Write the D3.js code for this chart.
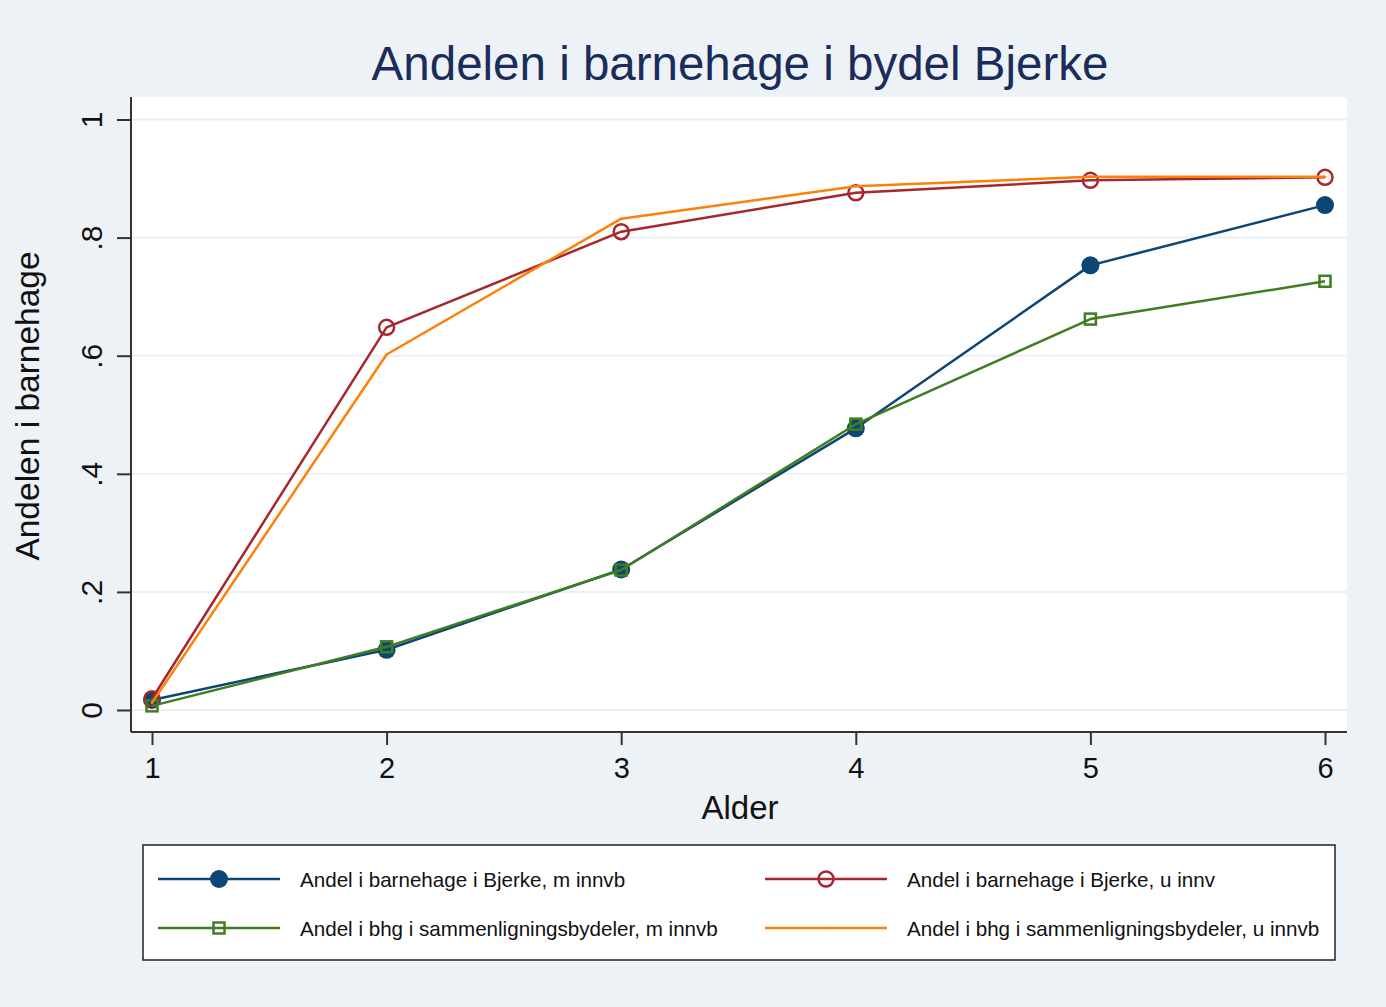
<!DOCTYPE html>
<html>
<head>
<meta charset="utf-8">
<script src="https://cdn.jsdelivr.net/npm/d3@7"></script>
<style>
  body { margin: 0; background: #edf2f7; }
  svg { display: block; font-family: "Liberation Sans", Arial, sans-serif; }
</style>
</head>
<body>
<svg id="chart" width="1386" height="1007"></svg>
<script>
// Ages on the x axis
const ages = [1, 2, 3, 4, 5, 6];

// Series values
const bjerkeMed = [0.017, 0.102, 0.238, 0.477, 0.753, 0.855];
const bjerkeUten = [0.019, 0.648, 0.810, 0.876, 0.897, 0.902];
const sammenMed = [0.007, 0.107, 0.237, 0.484, 0.662, 0.726];
const sammenUten = [0.012, 0.602, 0.832, 0.887, 0.903, 0.903];

const yTicks = [0, 0.2, 0.4, 0.6, 0.8, 1];
const yTickLabels = ["0", ".2", ".4", ".6", ".8", "1"];

const seriesNames = [
  "Andel i barnehage i Bjerke, m innvb",
  "Andel i barnehage i Bjerke, u innv",
  "Andel i bhg i sammenligningsbydeler, m innvb",
  "Andel i bhg i sammenligningsbydeler, u innvb"
];

const series = [
  { name: seriesNames[0], values: bjerkeMed, color: "#0d4574", marker: "dot" },
  { name: seriesNames[1], values: bjerkeUten, color: "#a6282f", marker: "ring" },
  { name: seriesNames[2], values: sammenMed, color: "#3f7d22", marker: "square" },
  { name: seriesNames[3], values: sammenUten, color: "#fd8108", marker: "point" }
];

const svg = d3.select("#chart");
const width = +svg.attr("width");
const height = +svg.attr("height");

svg.append("rect").attr("width", width).attr("height", height).attr("fill", "#edf2f7");

// plot region
const plot = { left: 131, right: 1347, top: 97, bottom: 732 };

const x = d3.scaleLinear().domain([1, 6]).range([152, 1325]);
const y = d3.scaleLinear().domain([0, 1]).range([710, 119.5]);

svg.append("rect")
  .attr("x", plot.left).attr("y", plot.top)
  .attr("width", plot.right - plot.left).attr("height", plot.bottom - plot.top)
  .attr("fill", "#ffffff");

// grid lines
svg.append("g").selectAll("line")
  .data(yTicks)
  .join("line")
  .attr("x1", plot.left).attr("x2", plot.right)
  .attr("y1", d => y(d)).attr("y2", d => y(d))
  .attr("stroke", "#eaf0f5").attr("stroke-width", 2);

// y axis
const yAxis = svg.append("g")
  .attr("transform", `translate(${plot.left},0)`)
  .call(d3.axisLeft(y).tickValues(yTicks).tickSize(14).tickFormat((d, i) => yTickLabels[i]));
yAxis.select(".domain").attr("d", `M0,${plot.top}V${plot.bottom}`).attr("stroke", "#333").attr("stroke-width", 2);
yAxis.selectAll(".tick line").attr("stroke", "#333").attr("stroke-width", 2);
yAxis.selectAll(".tick text")
  .attr("x", null).attr("dy", null)
  .attr("transform", "translate(-29,0) rotate(-90)")
  .attr("text-anchor", "middle")
  .attr("font-size", 30)
  .attr("font-family", "Liberation Sans, Arial, sans-serif")
  .attr("fill", "#111");

// x axis
const xAxis = svg.append("g")
  .attr("transform", `translate(0,${plot.bottom})`)
  .call(d3.axisBottom(x).tickValues(ages).tickSize(13).tickFormat(d3.format("d")));
xAxis.select(".domain").attr("d", `M${plot.left},0H${plot.right}`).attr("stroke", "#333").attr("stroke-width", 2);
xAxis.selectAll(".tick line").attr("stroke", "#333").attr("stroke-width", 2);
xAxis.selectAll(".tick text")
  .attr("y", 46).attr("dy", null)
  .attr("font-size", 29)
  .attr("font-family", "Liberation Sans, Arial, sans-serif")
  .attr("fill", "#111");

// titles
svg.append("text")
  .attr("x", 740).attr("y", 80)
  .attr("text-anchor", "middle")
  .attr("font-size", 47.5)
  .attr("fill", "#1a2d5a")
  .text("Andelen i barnehage i bydel Bjerke");

svg.append("text")
  .attr("x", 740).attr("y", 819)
  .attr("text-anchor", "middle")
  .attr("font-size", 33)
  .attr("fill", "#111")
  .text("Alder");

svg.append("text")
  .attr("transform", "translate(39,406) rotate(-90)")
  .attr("text-anchor", "middle")
  .attr("font-size", 33.5)
  .attr("fill", "#111")
  .text("Andelen i barnehage");

// draws one marker at cx, cy
function drawMarker(g, type, color, cx, cy) {
  if (type === "dot") {
    g.append("circle").attr("cx", cx).attr("cy", cy).attr("r", 9).attr("fill", color);
  } else if (type === "ring") {
    g.append("circle").attr("cx", cx).attr("cy", cy).attr("r", 7.5)
      .attr("fill", "none").attr("stroke", color).attr("stroke-width", 2.5);
  } else if (type === "square") {
    g.append("rect").attr("x", cx - 5.5).attr("y", cy - 5.5).attr("width", 11).attr("height", 11)
      .attr("fill", "none").attr("stroke", color).attr("stroke-width", 2.5);
  } else {
    g.append("circle").attr("cx", cx).attr("cy", cy).attr("r", 1.3).attr("fill", color);
  }
}

const line = d3.line().x((d, i) => x(ages[i])).y(d => y(d));

series.forEach(s => {
  const g = svg.append("g");
  g.append("path")
    .attr("d", line(s.values))
    .attr("fill", "none")
    .attr("stroke", s.color)
    .attr("stroke-width", 2.5)
    .attr("stroke-linejoin", "round");
  s.values.forEach((v, i) => drawMarker(g, s.marker, s.color, x(ages[i]), y(v)));
});

// legend
svg.append("rect")
  .attr("x", 143).attr("y", 845)
  .attr("width", 1192).attr("height", 115)
  .attr("fill", "#ffffff")
  .attr("stroke", "#222").attr("stroke-width", 1.5);

const legendPos = [
  { x: 158, y: 879 },
  { x: 765, y: 879 },
  { x: 158, y: 928 },
  { x: 765, y: 928 }
];

series.forEach((s, i) => {
  const p = legendPos[i];
  const g = svg.append("g");
  g.append("line")
    .attr("x1", p.x).attr("x2", p.x + 122)
    .attr("y1", p.y).attr("y2", p.y)
    .attr("stroke", s.color).attr("stroke-width", 2.5);
  drawMarker(g, s.marker, s.color, p.x + 61, p.y);
  g.append("text")
    .attr("x", p.x + 142).attr("y", p.y + 7.5)
    .attr("font-size", 20.6)
    .attr("fill", "#111")
    .text(s.name);
});
</script>
</body>
</html>
